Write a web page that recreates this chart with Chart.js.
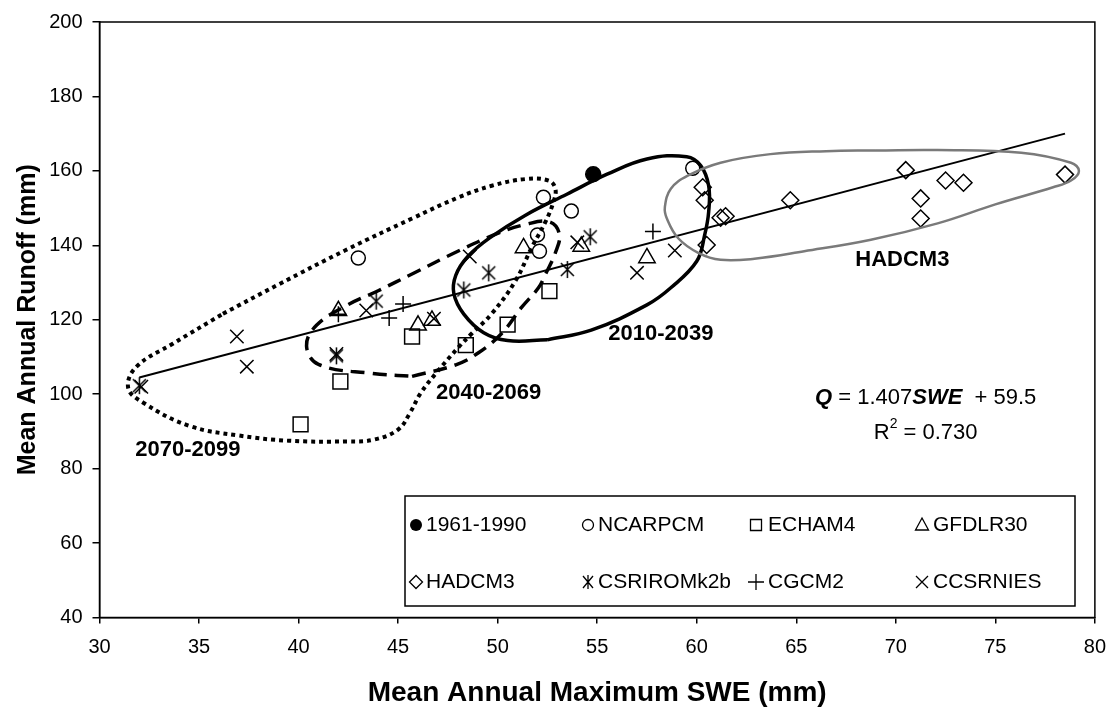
<!DOCTYPE html>
<html><head><meta charset="utf-8">
<script src="https://cdn.jsdelivr.net/npm/chart.js@4.4.1/dist/chart.umd.min.js"></script>
<style>html,body{margin:0;padding:0;background:#fff}canvas{display:block}</style>
</head><body>
<canvas id="c" width="1118" height="715"></canvas>
<script>
const FONT = "'Liberation Sans', Arial, Helvetica, sans-serif";

// ---- tick labels ----
const xTickValues = [30,35,40,45,50,55,60,65,70,75,80];
const yTickValues = [40,60,80,100,120,140,160,180,200];

// ---- series (SWE, runoff) ----
const baselineSWE = [54.8];
const baselineQ   = [159.1];
const ncarSWE  = [43.0, 52.3, 53.7, 52.0, 52.1, 59.8];
const ncarQ    = [136.6, 152.9, 149.2, 142.8, 138.4, 160.7];
const echamSWE = [40.1, 42.1, 45.7, 48.4, 50.5, 52.6];
const echamQ   = [91.9, 103.4, 115.5, 113.2, 118.7, 127.7];
const gfdlSWE  = [42.0, 46.0, 46.7, 51.3, 54.2, 57.5];
const gfdlQ    = [122.4, 118.5, 119.8, 139.3, 139.7, 136.6];
const hadSWE   = [60.3, 60.4, 61.2, 61.45, 60.5, 64.7, 70.5, 72.5, 73.4, 71.25, 71.25, 78.5];
const hadQ     = [155.6, 152.1, 147.4, 147.8, 140.1, 152.1, 160.2, 157.4, 156.8, 152.6, 147.2, 159.0];
const csiroSWE = [32.0, 41.9, 43.9, 48.3, 49.55, 53.5, 54.65];
const csiroQ   = [102.3, 110.3, 125.0, 128.0, 132.6, 133.5, 142.3];
const cgcmSWE  = [42.0, 44.55, 45.25, 57.8];
const cgcmQ    = [121.5, 120.5, 124.2, 143.7];
const ccsrSWE  = [32.1, 36.9, 37.4, 41.9, 43.4, 46.8, 48.6, 54.0, 57.0, 58.9];
const ccsrQ    = [102.0, 115.5, 107.4, 110.8, 122.5, 120.3, 137.0, 140.8, 132.6, 138.6];

// regression line end points
const trendSWE = [32.0, 78.5];
const trendQ   = [104.5, 170.0];

// hand-drawn period / model envelopes (SWE, runoff)
const ringHadSWE = [69.0,72.1,76.3,78.8,79.2,78.8,77.9,75.0,72.1,68.75,65.4,62.9,61.2,60.1,59.07,58.5,58.4,58.7,59.55,61.2,63.7,66.5,69.0];
const ringHadQ   = [165.5,165.6,164.9,162.2,160.0,157.4,155.6,151.0,145.9,141.5,138.4,136.4,136.1,137.9,141.9,147.2,150.3,155.2,158.7,162.2,164.5,165.3,165.5];
const ring2010SWE = [52.5,54.7,57.5,58.7,60.0,60.4,60.6,60.6,60.2,59.5,57.5,55.5,53.5,51.4,49.6,48.5,47.9,47.8,48.3,49.3,50.5,52.5];
const ring2010Q   = [114.6,117.2,124.0,128.6,135.7,142.8,149.0,156.0,161.4,163.8,163.2,159.1,153.8,148.1,142.0,137.0,132.0,127.0,121.5,116.5,114.4,114.6];
const ring2040SWE = [45.7,47.9,49.0,50.2,51.2,52.05,52.4,52.9,53.1,52.6,51.4,50.0,48.0,45.7,44.0,42.4,40.9,40.4,41.0,43.7,45.7];
const ring2040Q   = [104.8,107.9,111.0,116.3,123.3,128.6,132.2,138.0,143.0,146.3,145.6,143.2,138.4,132.3,127.8,123.8,118.5,113.0,108.0,105.6,104.8];
const ring2070SWE = [36.2,39.0,42.4,45.7,48.0,49.7,51.4,52.56,52.9,52.8,52.4,51.7,50.9,49.7,48.7,48.05,46.9,46.1,45.6,45.0,43.8,42.5,39.5,37.0,34.5,32.2,31.44,31.86,33.7,36.2];
const ring2070Q   = [121.6,129.5,138.8,147.2,152.8,156.0,157.8,157.4,155.2,151.6,146.3,139.3,130.5,121.6,116.3,112.7,105.6,100.0,95.0,90.5,87.8,87.3,87.5,88.9,91.5,97.7,101.7,107.4,113.6,121.6];

// ---- text ----
const legendLabels = ['1961-1990','NCARPCM','ECHAM4','GFDLR30','HADCM3','CSRIROMk2b','CGCM2','CCSRNIES'];
const periodLabels = ['HADCM3','2010-2039','2040-2069','2070-2099'];
const periodAnchorSWE = [70.33, 55.56, 46.9, 31.8];
const periodAnchorQ   = [136.2, 116.3, 100.3, 85.0];
const periodAlign = ['center','left','left','left'];

const pts = (xs, ys) => xs.map((x, i) => ({x, y: ys[i]}));

function makeAsterisk(w, h, lw) {
  const c = document.createElement('canvas');
  c.width = Math.ceil(w + 4); c.height = Math.ceil(h + 4);
  const g = c.getContext('2d');
  g.strokeStyle = '#000'; g.lineWidth = lw;
  const cx = c.width / 2, cy = c.height / 2;
  g.beginPath();
  g.moveTo(cx - w/2, cy - w/2); g.lineTo(cx + w/2, cy + w/2);
  g.moveTo(cx + w/2, cy - w/2); g.lineTo(cx - w/2, cy + w/2);
  g.moveTo(cx, cy - h/2); g.lineTo(cx, cy + h/2);
  g.stroke();
  return c;
}
const asteriskImg = makeAsterisk(13, 17, 1.5);

const NOFILL = 'rgba(0,0,0,0)';
function scatterDs(label, xs, ys, style, radius, fill) {
  return { type: 'scatter', label, data: pts(xs, ys), showLine: false,
    pointStyle: style, pointRadius: radius, pointHoverRadius: radius,
    pointBackgroundColor: fill || NOFILL, pointBorderColor: '#000', pointBorderWidth: 1.5 };
}
function ringDs(label, xs, ys, color, width, dash) {
  return { type: 'line', label, data: pts(xs, ys), borderColor: color, borderWidth: width,
    borderDash: dash, pointRadius: 0, tension: 0.4, fill: false, borderCapStyle: 'butt' };
}

const frameAndText = {
  id: 'frameAndText',
  afterDatasetsDraw(chart) {
    const {ctx, chartArea: a, scales: {x, y}} = chart;
    ctx.save();
    ctx.strokeStyle = '#000'; ctx.lineWidth = 1.5;
    ctx.strokeRect(a.left, a.top, a.right - a.left, a.bottom - a.top);
    // period labels
    ctx.fillStyle = '#000';
    ctx.font = `bold 22px ${FONT}`;
    ctx.textBaseline = 'middle';
    periodLabels.forEach((t, i) => {
      ctx.textAlign = periodAlign[i];
      ctx.fillText(t, x.getPixelForValue(periodAnchorSWE[i]), y.getPixelForValue(periodAnchorQ[i]));
    });
    // equation
    const eqX = x.getPixelForValue(71.5), eqY = y.getPixelForValue(99.0);
    const parts = [['Q', true], [' = 1.407', false], ['SWE', true], ['  + 59.5', false]];
    const bi = `italic bold 22px ${FONT}`, rg = `22px ${FONT}`;
    let total = 0;
    parts.forEach(([t, b]) => { ctx.font = b ? bi : rg; total += ctx.measureText(t).width; });
    let cx = eqX - total / 2;
    ctx.textAlign = 'left';
    parts.forEach(([t, b]) => { ctx.font = b ? bi : rg; ctx.fillText(t, cx, eqY); cx += ctx.measureText(t).width; });
    // R^2
    const rY = y.getPixelForValue(89.7);
    ctx.font = rg;
    const wR = ctx.measureText('R').width, wRest = ctx.measureText(' = 0.730').width;
    ctx.font = `14px ${FONT}`;
    const w2 = ctx.measureText('2').width;
    let rx = eqX - (wR + w2 + wRest) / 2;
    ctx.font = rg; ctx.fillText('R', rx, rY); rx += wR;
    ctx.font = `14px ${FONT}`; ctx.fillText('2', rx, rY - 8); rx += w2;
    ctx.font = rg; ctx.fillText(' = 0.730', rx, rY);
    ctx.restore();
  },
  afterDraw(chart) {
    const {ctx} = chart;
    ctx.save();
    const bx = 405, by = 496, bw = 670, bh = 110;
    ctx.fillStyle = '#fff'; ctx.fillRect(bx, by, bw, bh);
    ctx.strokeStyle = '#000'; ctx.lineWidth = 1.5; ctx.strokeRect(bx, by, bw, bh);
    const markerX = [416, 588, 756, 922];
    const textX = [426, 598, 768, 933];
    const rowY = [525, 582];
    const kinds = ['dot','circle','square','triangle','diamond','asterisk','plus','x'];
    ctx.font = `21px ${FONT}`; ctx.fillStyle = '#000'; ctx.textAlign = 'left'; ctx.textBaseline = 'middle';
    kinds.forEach((k, i) => {
      const col = i % 4, row = Math.floor(i / 4);
      const mx = markerX[col], my = rowY[row];
      ctx.strokeStyle = '#000'; ctx.lineWidth = 1.3; ctx.fillStyle = '#000';
      ctx.beginPath();
      if (k === 'dot') { ctx.arc(mx, my, 6, 0, Math.PI*2); ctx.fill(); }
      else if (k === 'circle') { ctx.arc(mx, my, 5.5, 0, Math.PI*2); ctx.stroke(); }
      else if (k === 'square') { ctx.rect(mx-5.5, my-5.5, 11, 11); ctx.stroke(); }
      else if (k === 'triangle') { ctx.moveTo(mx, my-7); ctx.lineTo(mx+6.5, my+5); ctx.lineTo(mx-6.5, my+5); ctx.closePath(); ctx.stroke(); }
      else if (k === 'diamond') { ctx.moveTo(mx, my-6.5); ctx.lineTo(mx+6.5, my); ctx.lineTo(mx, my+6.5); ctx.lineTo(mx-6.5, my); ctx.closePath(); ctx.stroke(); }
      else if (k === 'asterisk') { ctx.moveTo(mx-5, my-6); ctx.lineTo(mx+5, my+6); ctx.moveTo(mx+5, my-6); ctx.lineTo(mx-5, my+6); ctx.moveTo(mx, my-7); ctx.lineTo(mx, my+7); ctx.stroke(); }
      else if (k === 'plus') { ctx.moveTo(mx-8, my); ctx.lineTo(mx+8, my); ctx.moveTo(mx, my-8); ctx.lineTo(mx, my+8); ctx.stroke(); }
      else if (k === 'x') { ctx.moveTo(mx-6, my-6); ctx.lineTo(mx+6, my+6); ctx.moveTo(mx+6, my-6); ctx.lineTo(mx-6, my+6); ctx.stroke(); }
      ctx.fillStyle = '#000';
      ctx.fillText(legendLabels[i], textX[col], my);
    });
    ctx.restore();
  }
};

new Chart(document.getElementById('c'), {
  data: {
    datasets: [
      ringDs('HADCM3 envelope', ringHadSWE, ringHadQ, '#7a7a7a', 2.5, []),
      ringDs('2010-2039', ring2010SWE, ring2010Q, '#000', 3.5, []),
      ringDs('2040-2069', ring2040SWE, ring2040Q, '#000', 3.5, [14, 8]),
      ringDs('2070-2099', ring2070SWE, ring2070Q, '#000', 4, [4, 4]),
      { type: 'line', label: 'trend', data: pts(trendSWE, trendQ), borderColor: '#000', borderWidth: 2, pointRadius: 0, fill: false },
      scatterDs(legendLabels[0], baselineSWE, baselineQ, 'circle', 7.5, '#000'),
      scatterDs(legendLabels[1], ncarSWE, ncarQ, 'circle', 7),
      scatterDs(legendLabels[2], echamSWE, echamQ, 'rect', 10.5),
      scatterDs(legendLabels[3], gfdlSWE, gfdlQ, 'triangle', 9.5),
      scatterDs(legendLabels[4], hadSWE, hadQ, 'rectRot', 8.5),
      scatterDs(legendLabels[5], csiroSWE, csiroQ, asteriskImg, 9),
      scatterDs(legendLabels[6], cgcmSWE, cgcmQ, 'cross', 8),
      scatterDs(legendLabels[7], ccsrSWE, ccsrQ, 'crossRot', 9.5)
    ]
  },
  options: {
    responsive: false, animation: false, devicePixelRatio: 1,
    layout: { padding: { top: 14, right: 20, left: 0, bottom: 0 } },
    plugins: { legend: { display: false }, tooltip: { enabled: false } },
    scales: {
      x: {
        type: 'linear', min: 30, max: 80,
        afterFit: s => { s.height = 97.5; },
        afterBuildTicks: s => { s.ticks = xTickValues.map(v => ({value: v})); },
        grid: { drawOnChartArea: false, drawTicks: true, tickLength: 6, color: '#000', lineWidth: 1.5 },
        border: { display: true, color: '#000', width: 1.5 },
        ticks: { font: { family: FONT, size: 20 }, color: '#000', padding: 12, maxRotation: 0, autoSkip: false },
        title: { display: true, text: 'Mean Annual Maximum SWE (mm)', color: '#000',
          font: { family: FONT, size: 28, weight: 'bold' }, padding: { top: 0, bottom: 5 } }
      },
      y: {
        type: 'linear', min: 40, max: 200,
        afterFit: s => { s.width = 99.5; },
        afterBuildTicks: s => { s.ticks = yTickValues.map(v => ({value: v})); },
        grid: { drawOnChartArea: false, drawTicks: true, tickLength: 7, color: '#000', lineWidth: 1.5 },
        border: { display: true, color: '#000', width: 1.5 },
        ticks: { font: { family: FONT, size: 20 }, color: '#000', padding: 10, autoSkip: false },
        title: { display: true, text: 'Mean Annual Runoff (mm)', color: '#000',
          font: { family: FONT, size: 25, weight: 'bold' }, padding: { top: 13, bottom: 0 } }
      }
    }
  },
  plugins: [frameAndText]
});
</script>
</body></html>
